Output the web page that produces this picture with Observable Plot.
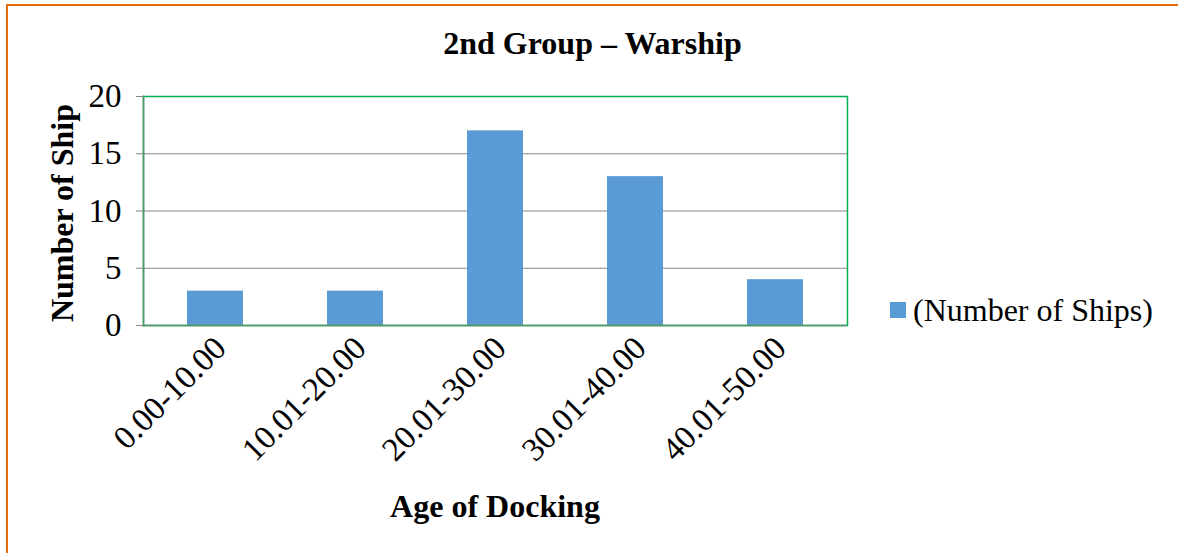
<!DOCTYPE html>
<html>
<head>
<meta charset="utf-8">
<script src="https://cdn.jsdelivr.net/npm/d3@7"></script>
<script src="https://cdn.jsdelivr.net/npm/@observablehq/plot@0.6"></script>
<style>
  html, body { margin: 0; padding: 0; background: #fff; overflow: hidden; }
  #wrap { position: relative; width: 1178px; height: 553px; overflow: hidden; font-family: "Liberation Serif", "Times New Roman", serif; }
  #border { position: absolute; left: 6px; top: 4px; width: 1300px; height: 700px; border-top: 2px solid #E46C0A; border-left: 2px solid #E46C0A; box-sizing: border-box; pointer-events: none; }
  #chart { position: absolute; left: 0; top: 0; }
  .title { position: absolute; font-weight: bold; font-size: 32px; color: #000; white-space: nowrap; line-height: 1; }
  #legend { position: absolute; left: 890px; top: 294px; font-size: 32px; white-space: nowrap; line-height: 1; display: flex; align-items: center; }
  #legend .sw { display: inline-block; width: 16px; height: 16px; background: #5B9BD5; margin-right: 7px; }
</style>
</head>
<body>
<div id="wrap">
  <div id="chart"></div>
  <div class="title" id="t1" style="left:0; width:1185px; text-align:center; top:27px;">2nd Group – Warship</div>
  <div class="title" id="t2" style="left:0; width:990px; text-align:center; top:490px;">Age of Docking</div>
  <div class="title" id="t3" style="left:46px; top:213px; transform-origin: 0 0; transform: rotate(-90deg) translate(-50%, 0);">Number of Ship</div>
  <div id="legend"><span class="sw"></span><span>(Number of Ships)</span></div>
  <div id="border"></div>
</div>
<script>
const categories = ["0.00-10.00", "10.01-20.00", "20.01-30.00", "30.01-40.00", "40.01-50.00"];
const shipCounts = [3, 3, 17, 13, 4];
const yTicks = [0, 5, 10, 15, 20];
const gridTicks = [5, 10, 15];

const data = categories.map((c, i) => ({category: c, value: shipCounts[i]}));

const plot = Plot.plot({
  width: 1178,
  height: 553,
  marginLeft: 143,
  marginRight: 331,
  marginTop: 96,
  marginBottom: 228,
  style: {fontFamily: "Liberation Serif, Times New Roman, serif", fontSize: "32px", background: "transparent", color: "#000"},
  x: {domain: categories, paddingInner: 0.6, paddingOuter: 0.3, label: null},
  y: {domain: [0, 20], label: null},
  marks: [
    Plot.ruleY(gridTicks, {stroke: "#868686", strokeWidth: 1, strokeOpacity: 1}),
    Plot.barY(data, {x: "category", y: "value", fill: "#5B9BD5"}),
    Plot.ruleY([20], {stroke: "#00B050", strokeWidth: 1.5}),
    Plot.frame({anchor: "right", stroke: "#00B050", strokeWidth: 1.5}),
    Plot.frame({anchor: "left", stroke: "#4E9A6A", strokeWidth: 2}),
    Plot.ruleY([0], {stroke: "#4E9A6A", strokeWidth: 2}),
    Plot.axisY({ticks: yTicks, tickSize: 7, tickPadding: 15, fontSize: 33, stroke: "#868686", strokeOpacity: 1, label: null, tickFormat: d => String(d)}),
    Plot.axisX({tickSize: 0, tickRotate: -45, tickPadding: 17, dx: 5, fontSize: 33, label: null})
  ]
});
document.getElementById("chart").appendChild(plot);
</script>
</body>
</html>
